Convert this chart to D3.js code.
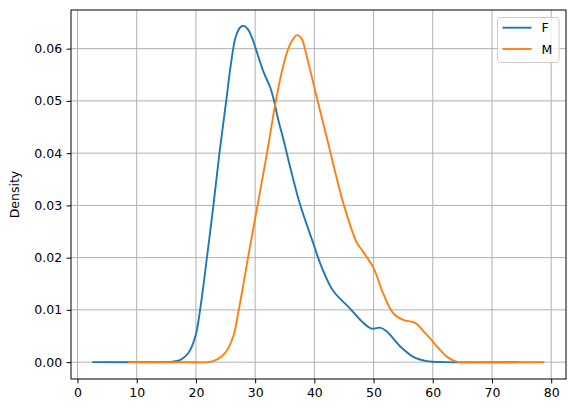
<!DOCTYPE html>
<html><head><meta charset="utf-8">
<script src="https://cdn.jsdelivr.net/npm/d3@7"></script>
<style>body{margin:0;background:#fff}svg{display:block;font-family:"DejaVu Sans",sans-serif}</style>
</head><body><svg id="c" width="576" height="413"></svg>
<script>
// F series: x values and density
const fX = [2.5, 12, 16, 17.3, 18.7, 19.9, 20.7, 21.3, 21.8, 22.95, 23.97, 25.0, 26.0, 26.7, 27.5, 28.2, 28.9, 29.5, 30.1, 31.4, 32.5, 33.2, 33.9, 34.8, 35.9, 37.5, 39.8, 41.2, 43.2, 46.0, 48.0, 49.7, 51.1, 52.2, 54.5, 56.7, 59, 62, 74.3];
const fY = [0, 0, 0.0001, 0.0004, 0.0017, 0.0049, 0.010, 0.0150, 0.0195, 0.030, 0.040, 0.049, 0.0578, 0.0622, 0.0641, 0.0643, 0.0635, 0.0620, 0.060, 0.0556, 0.0527, 0.050, 0.0464, 0.0425, 0.0374, 0.0305, 0.0228, 0.0183, 0.0136, 0.0103, 0.0078, 0.0064, 0.0066, 0.0059, 0.003, 0.001, 0.0002, 0, 0];
// M series
const mX = [8.6, 18, 22.95, 24.9, 26.3, 27.2, 28.0, 28.8, 30.4, 32.0, 33.5, 34.6, 35.6, 36.5, 37.1, 37.9, 38.4, 40.1, 42.2, 45.0, 47.2, 48.0, 50.0, 51.6, 53.3, 55.0, 57.0, 59.0, 61.2, 62.3, 64, 67, 78.8];
const mY = [0, 0, 0.0002, 0.0017, 0.0049, 0.0098, 0.0148, 0.020, 0.030, 0.040, 0.050, 0.056, 0.060, 0.062, 0.0626, 0.0618, 0.060, 0.0521, 0.0425, 0.030, 0.0228, 0.0215, 0.018, 0.0132, 0.0094, 0.0081, 0.0075, 0.0052, 0.0024, 0.0011, 0.0001, 0, 0];
const seriesNames = ["F", "M"];
const xTicks = [0, 10, 20, 30, 40, 50, 60, 70, 80];
const yTicks = [0.00, 0.01, 0.02, 0.03, 0.04, 0.05, 0.06];
const colors = ["#1f77b4", "#ff7f0e"];

const L = 71, R = 566, T = 10, B = 379;
const svg = d3.select("#c");
const x = d3.scaleLinear().domain([-1.1, 82.5]).range([L, R]);
const y = d3.scaleLinear().domain([-0.00323, 0.0674]).range([B, T]);

// grid
const g = svg.append("g");
g.selectAll(".gx").data(xTicks).join("line")
  .attr("x1", d => x(d)).attr("x2", d => x(d)).attr("y1", T).attr("y2", B)
  .attr("stroke", "#b0b0b0").attr("stroke-width", 1);
g.selectAll(".gy").data(yTicks).join("line")
  .attr("y1", d => y(d)).attr("y2", d => y(d)).attr("x1", L).attr("x2", R)
  .attr("stroke", "#b0b0b0").attr("stroke-width", 1);

// lines
const series = [fX.map((v, i) => [v, fY[i]]), mX.map((v, i) => [v, mY[i]])];
const line = d3.line().x(d => x(d[0])).y(d => y(d[1])).curve(d3.curveCatmullRom.alpha(0.5));
series.forEach((s, i) => {
  svg.append("path").attr("d", line(s)).attr("fill", "none")
    .attr("stroke", colors[i]).attr("stroke-width", 1.9).attr("stroke-linejoin", "round");
});

// axes
const xa = svg.append("g").attr("transform", `translate(0,${B})`)
  .call(d3.axisBottom(x).tickValues(xTicks).tickSize(4.4).tickPadding(4.4).tickFormat(d3.format("d")));
const ya = svg.append("g").attr("transform", `translate(${L},0)`)
  .call(d3.axisLeft(y).tickValues(yTicks).tickSize(4.4).tickPadding(4.4).tickFormat(d3.format(".2f")));
[xa, ya].forEach(a => {
  a.select(".domain").remove();
  a.selectAll("line").attr("stroke", "#000").attr("stroke-width", 1);
  a.selectAll("text").attr("font-size", 12.5).attr("fill", "#000").attr("font-family", "DejaVu Sans");
});
svg.append("rect").attr("x", L).attr("y", T).attr("width", R - L).attr("height", B - T)
  .attr("fill", "none").attr("stroke", "#000").attr("stroke-width", 1);

svg.append("text").attr("transform", `translate(19,${(T + B) / 2}) rotate(-90)`)
  .attr("text-anchor", "middle").attr("font-size", 12.5).text("Density");

// legend
const lg = svg.append("g");
lg.append("rect").attr("x", 497.5).attr("y", 17.5).attr("width", 61.5).attr("height", 45).attr("rx", 3)
  .attr("fill", "#fff").attr("fill-opacity", 0.8).attr("stroke", "#cccccc").attr("stroke-width", 1);
seriesNames.forEach((n, i) => {
  const yy = 27.7 + i * 21.3;
  lg.append("line").attr("x1", 502.5).attr("x2", 531.5).attr("y1", yy).attr("y2", yy)
    .attr("stroke", colors[i]).attr("stroke-width", 1.9);
  lg.append("text").attr("x", 541.5).attr("y", yy + 4.5).attr("font-size", 12.5).text(n);
});
</script></body></html>
